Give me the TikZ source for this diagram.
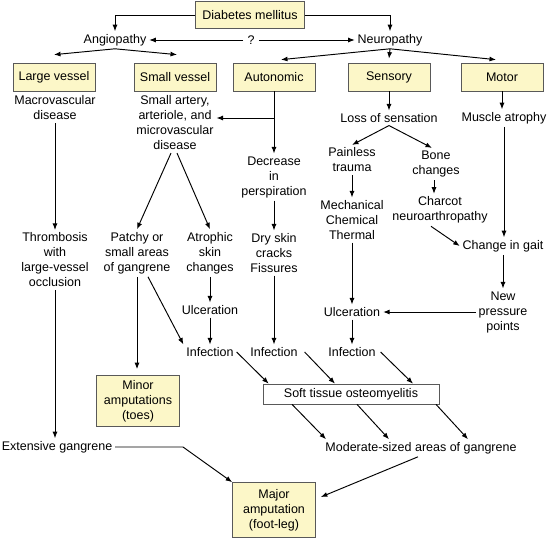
\documentclass[tikz,border=0pt]{standalone}
\usepackage{fontspec}
\setmainfont{Liberation Sans}
\usepackage{tikz}
\usetikzlibrary{arrows.meta,positioning,calc}
\definecolor{boxfill}{RGB}{252,247,200}

\begin{document}
\begin{tikzpicture}[x=1pt,y=-1pt,
  font=\fontsize{12.5}{15}\selectfont,
  >={Latex[length=6.5pt,width=5pt]},
  line width=0.95pt,
  box/.style={draw=black!65, fill=boxfill, line width=0.7pt, minimum width=82pt,
              minimum height=28pt, align=center, inner sep=2pt},
  txt/.style={align=center, inner sep=2.5pt}]
  \useasboundingbox (0,0) rectangle (549,539);

  % Top
  \node[box, minimum width=109pt, minimum height=27pt] (dm) at (250,15) {Diabetes mellitus};
  \node[txt] (ang) at (115,40) {Angiopathy};
  \node[txt] (neu) at (390,40) {Neuropathy};
  \node[txt, inner xsep=4pt] (q) at (251,40) {?};

  \node[box] (lv) at (54,77) {Large vessel};
  \node[box] (sv) at (175,77) {Small vessel};
  \node[box] (au) at (274,77) {Autonomic};
  \node[box] (se) at (389,77) {Sensory};
  \node[box] (mo) at (502,77) {Motor};

  \draw[->] (dm.west) -| (ang.north);
  \draw[->] (dm.east) -| (neu.north);
  \draw[->] (q) -- (ang);
  \draw[->] (q) -- (neu);
  \draw[->] (ang.south) -- ([yshift=8pt]lv.north);
  \draw[->] (ang.south) -- ([xshift=2pt,yshift=8pt]sv.north);
  \draw[->] (neu.south) -- ([xshift=7pt,yshift=3pt]au.north);
  \draw[->] (neu.south) -- ([yshift=4pt]se.north);
  \draw[->] (neu.south) -- ([xshift=-6pt,yshift=3pt]mo.north);

  % Vessels
  \node[txt] (macro) at (55,108) {Macrovascular\\disease};
  \node[txt] (small) at (175,123) {Small artery,\\arteriole, and\\microvascular\\disease};
  \node[txt] (thromb) at (55,260) {Thrombosis\\with\\large-vessel\\occlusion};
  \node[txt] (patchy) at (137,253) {Patchy or\\small areas\\of gangrene};
  \node[txt] (atro) at (210,253) {Atrophic\\skin\\changes};
  \node[txt] (ulc1) at (210,310) {Ulceration};
  \node[txt] (inf1) at (210,352) {Infection};
  \node[box, minimum width=83pt, minimum height=51pt] (minor) at (138,401) {Minor\\amputations\\(toes)};
  \node[txt] (ext) at (57,447) {Extensive gangrene};

  \draw[->] (macro.south) -- (macro.south |- thromb.north);
  \draw[->] (thromb.south) -- (thromb.south |- ext.north);
  \draw[->] ([xshift=-4pt]small.south) -- (patchy.north);
  \draw[->] ([xshift=2pt]small.south) -- (atro.north);
  \draw[->] (patchy.south) -- ([yshift=6pt]patchy.south |- minor.north);
  \draw[->] ([xshift=11pt]patchy.south) -- (inf1.north west);
  \draw[->] (atro) -- (ulc1);
  \draw[->] (ulc1) -- (inf1);

  % Autonomic
  \node[txt] (dec) at (274,177) {Decrease\\in\\perspiration};
  \node[txt] (dry) at (274,253) {Dry skin\\cracks\\Fissures};
  \node[txt] (inf2) at (274,352) {Infection};
  \coordinate (br) at (274,118);

  \draw[->] (au) -- (dec);
  \draw[->] (br) -- (small.east |- br);
  \draw[->] (dec) -- (dry);
  \draw[->] (dry) -- (inf2);

  % Sensory and motor
  \node[txt] (loss) at (389,118) {Loss of sensation};
  \node[txt] (pain) at (352,160) {Painless\\trauma};
  \node[txt] (bone) at (436,164) {Bone\\changes};
  \node[txt] (mech) at (352,220) {Mechanical\\Chemical\\Thermal};
  \node[txt] (charcot) at (440,210) {Charcot\\neuroarthropathy};
  \node[txt] (mus) at (504,118) {Muscle atrophy};
  \node[txt] (gait) at (503,246) {Change in gait};
  \node[txt] (new) at (503,312) {New\\pressure\\points};
  \node[txt] (ulc2) at (352,312) {Ulceration};
  \node[txt] (inf3) at (352,352) {Infection};

  \draw[->] (se) -- (loss);
  \draw[->] (loss.south) -- (pain.north);
  \draw[->] (loss.south) -- ([xshift=-4pt]bone.north);
  \draw[->] (pain) -- (mech);
  \draw[->] ([xshift=-2pt]bone.south) -- ([xshift=-6pt]charcot.north);
  \draw[->] (mech) -- (ulc2);
  \draw[->] (ulc2) -- (inf3);
  \draw[->] (mo) -- (mo |- mus.north);
  \draw[->] (mus.south) -- (mus.south |- gait.north);
  \draw[->] ([xshift=-9pt]charcot.south) -- (gait.west);
  \draw[->] (gait) -- (new);
  \draw[->] (new.west) -- (ulc2.east);

  % Bottom
  \node[box, fill=white, minimum width=176pt, minimum height=20pt] (sto) at (351,394) {Soft tissue osteomyelitis};
  \node[txt] (mod) at (421,448) {Moderate-sized areas of gangrene};
  \node[box, minimum width=83pt, minimum height=55pt] (major) at (274,510) {Major\\amputation\\(foot-leg)};
  \coordinate (eb) at (183,447);

  \draw[->] (inf1.east) -- ([xshift=6pt]sto.north west);
  \draw[->] ([xshift=4pt]inf2.east) -- ([xshift=-16pt]sto.north);
  \draw[->] ([xshift=2pt]inf3.east) -- ([xshift=62pt]sto.north);
  \draw[->] ([xshift=-59pt]sto.south) -- ([xshift=-95pt]mod.north);
  \draw[->] ([xshift=6pt]sto.south) -- ([xshift=-32pt]mod.north);
  \draw[->] ([xshift=85pt]sto.south) -- ([xshift=47pt]mod.north);
  \draw[->] (ext.east) -- (eb) -- (major.north west);
  \draw[->] ([xshift=-3pt]mod.south) -- ([xshift=5pt,yshift=13pt]major.east);
\end{tikzpicture}
\end{document}
